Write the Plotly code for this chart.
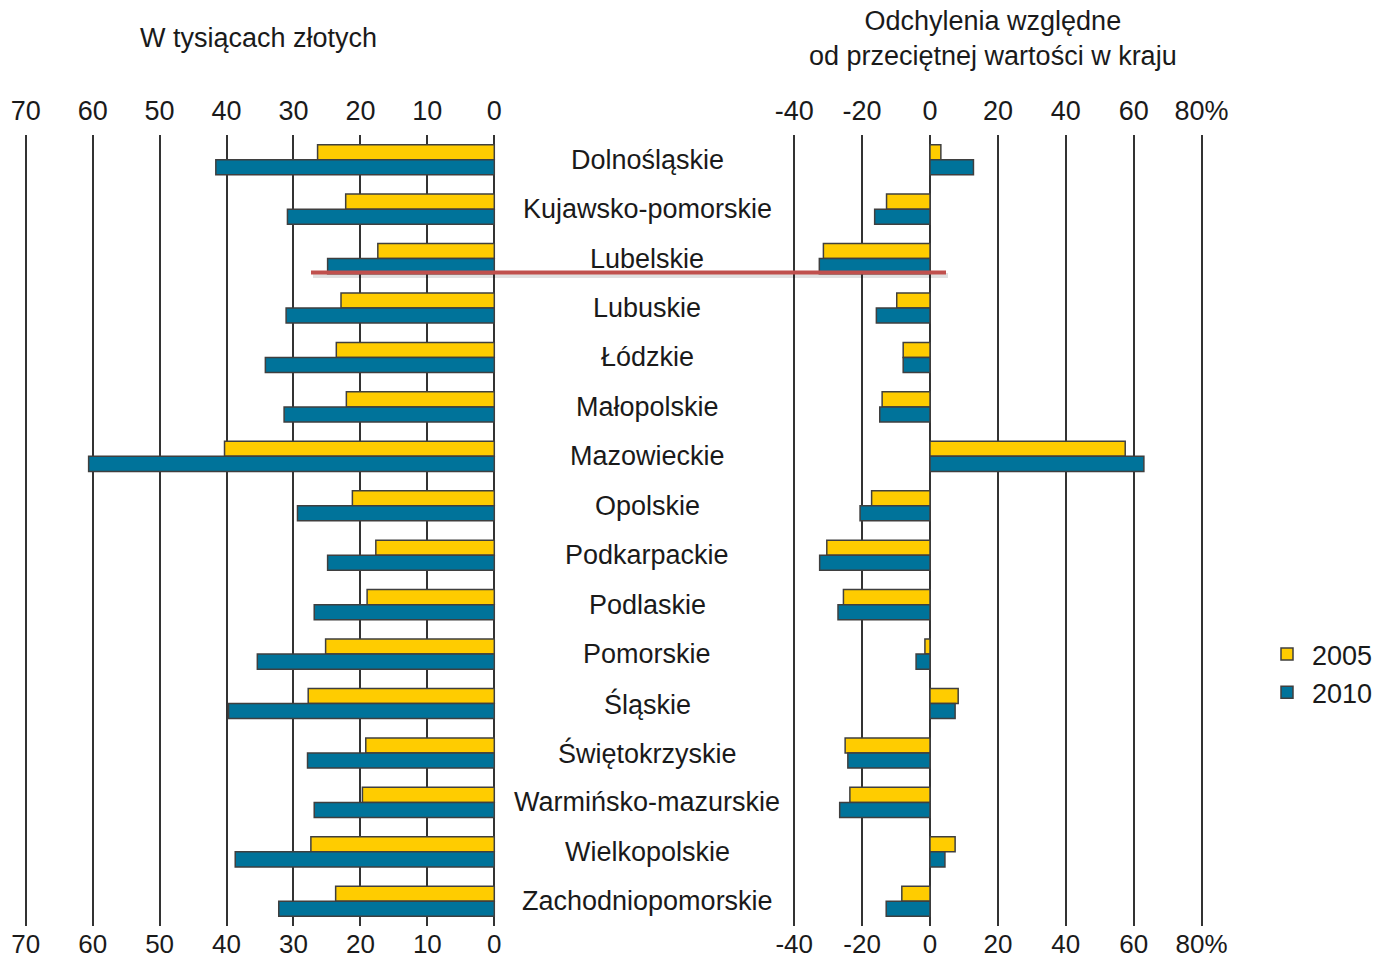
import plotly.graph_objects as go

categories = ["Dolnośląskie", "Kujawsko-pomorskie", "Lubelskie", "Lubuskie", "Łódzkie",
              "Małopolskie", "Mazowieckie", "Opolskie", "Podkarpackie", "Podlaskie",
              "Pomorskie", "Śląskie", "Świętokrzyskie", "Warmińsko-mazurskie",
              "Wielkopolskie", "Zachodniopomorskie"]

# W tysiącach złotych
value_2005 = [26.4, 22.2, 17.4, 22.9, 23.6, 22.1, 40.3, 21.2, 17.7, 19.0, 25.2, 27.8, 19.2, 19.7, 27.4, 23.7]
value_2010 = [41.6, 30.9, 24.9, 31.1, 34.2, 31.4, 60.6, 29.4, 24.9, 26.9, 35.4, 39.7, 27.9, 26.9, 38.7, 32.2]

# Odchylenia względne od przeciętnej wartości w kraju (%)
dev_2005 = [3.2, -12.8, -31.4, -9.8, -7.9, -14.1, 57.5, -17.2, -30.4, -25.5, -1.5, 8.3, -25.0, -23.6, 7.4, -8.3]
dev_2010 = [12.8, -16.3, -32.6, -15.8, -7.9, -14.8, 63.0, -20.6, -32.5, -27.1, -4.1, 7.4, -24.2, -26.6, 4.4, -12.9]

left_ticks = [0, 10, 20, 30, 40, 50, 60, 70]
left_ticktext = ["0", "10", "20", "30", "40", "50", "60", "70"]
right_ticks = [-40, -20, 0, 20, 40, 60, 80]
right_ticktext = ["-40", "-20", "0", "20", "40", "60", "80%"]

series_names = ["2005", "2010"]
YELLOW = "#FFCC00"
BLUE = "#00739A"
OUTLINE = "#3f3f3f"
GRID = "#333333"
TXT = "#1a1a1a"
FONT = "Liberation Sans, Arial, sans-serif"
FS = 27

W, H = 1378, 963

def px_x(p):
    return p / W

def px_y(p):
    return 1 - p / H

fig = go.Figure()

for name, vals, col in [(series_names[0], value_2005, YELLOW), (series_names[1], value_2010, BLUE)]:
    fig.add_trace(go.Bar(y=categories, x=vals, orientation="h", name=name,
                         marker=dict(color=col, line=dict(color=OUTLINE, width=1.5)),
                         xaxis="x", yaxis="y", legendgroup=name))
for name, vals, col in [(series_names[0], dev_2005, YELLOW), (series_names[1], dev_2010, BLUE)]:
    fig.add_trace(go.Bar(y=categories, x=vals, orientation="h", name=name,
                         marker=dict(color=col, line=dict(color=OUTLINE, width=1.5)),
                         xaxis="x2", yaxis="y2", legendgroup=name, showlegend=False))

# invisible helpers so the top tick axes are drawn
fig.add_trace(go.Scatter(x=[0], y=[categories[0]], xaxis="x3", yaxis="y", mode="markers",
                         marker=dict(opacity=0), showlegend=False, hoverinfo="skip"))
fig.add_trace(go.Scatter(x=[0], y=[categories[0]], xaxis="x4", yaxis="y2", mode="markers",
                         marker=dict(opacity=0), showlegend=False, hoverinfo="skip"))

# pixel geometry
left_px_per_unit = (494.3 - 25.7) / 70
left_range = [71, -1]
left_dom = [px_x(494.3 - 71 * left_px_per_unit), px_x(494.3 + 1 * left_px_per_unit)]
right_px_per_unit = (1201.7 - 794.3) / 120
right_range = [-42, 82]
right_dom = [px_x(930 - 42 * right_px_per_unit), px_x(930 + 82 * right_px_per_unit)]
y_dom = [px_y(926), px_y(135)]
y_range = [len(categories) - 0.5, -0.5]

tickfont = dict(family=FONT, size=FS, color=TXT)
bottom_tickfont = dict(family=FONT, size=26, color=TXT)
common_x = dict(showgrid=True, gridcolor=GRID, gridwidth=2, zeroline=True, zerolinecolor=GRID,
                zerolinewidth=2, showline=False, ticks="", tickfont=bottom_tickfont,
                fixedrange=True, automargin=False, ticklabelstandoff=0)
top_x = dict(showgrid=False, zeroline=False, ticks="", tickfont=tickfont, fixedrange=True,
             automargin=False, ticklabelstandoff=9)
common_y = dict(domain=y_dom, range=y_range, showticklabels=False, showgrid=False,
                zeroline=False, showline=False, ticks="", fixedrange=True, automargin=False)

fig.update_layout(
    width=W, height=H,
    margin=dict(l=0, r=0, t=0, b=0),
    paper_bgcolor="white", plot_bgcolor="white",
    barmode="group", bargap=0.39, bargroupgap=0,
    font=dict(family=FONT, color=TXT),
    xaxis=dict(domain=left_dom, range=left_range, anchor="y", side="bottom",
               tickvals=left_ticks, ticktext=left_ticktext, **common_x),
    xaxis3=dict(range=left_range, overlaying="x", anchor="y", side="top",
                tickvals=left_ticks, ticktext=left_ticktext, **top_x),
    xaxis2=dict(domain=right_dom, range=right_range, anchor="y2", side="bottom",
                tickvals=right_ticks, ticktext=right_ticktext, **common_x),
    xaxis4=dict(range=right_range, overlaying="x2", anchor="y2", side="top",
                tickvals=right_ticks, ticktext=right_ticktext, **top_x),
    yaxis=dict(anchor="x", **common_y),
    yaxis2=dict(anchor="x2", **common_y),
    legend=dict(x=px_x(1262), y=px_y(630), xanchor="left", yanchor="top",
                font=dict(family=FONT, size=FS, color=TXT), bgcolor="rgba(0,0,0,0)",
                traceorder="normal", itemwidth=40, tracegroupgap=8),
)

# category labels in the middle
for c in categories:
    fig.add_annotation(x=px_x(647), xref="paper", y=c, yref="y", text=c, showarrow=False,
                       xanchor="center", yanchor="middle",
                       font=dict(family=FONT, size=FS, color=TXT))

# panel titles
fig.add_annotation(x=px_x(258), y=px_y(38), xref="paper", yref="paper", showarrow=False,
                   text="W tysiącach złotych", xanchor="center", yanchor="middle",
                   font=dict(family=FONT, size=FS, color=TXT))
fig.add_annotation(x=px_x(993), y=px_y(38), xref="paper", yref="paper", showarrow=False,
                   text="Odchylenia względne<br>od przeciętnej wartości w kraju",
                   xanchor="center", yanchor="middle",
                   font=dict(family=FONT, size=FS, color=TXT))

# red highlight line below Lubelskie
hl_cat_index = categories.index("Lubelskie")
hl_offset = 0.28
fig.add_shape(type="line", xref="paper", yref="y", x0=px_x(313), x1=px_x(948),
              y0=hl_cat_index + hl_offset + 0.06, y1=hl_cat_index + hl_offset + 0.06,
              line=dict(color="rgba(0,0,0,0.12)", width=5), layer="above")
fig.add_shape(type="line", xref="paper", yref="y", x0=px_x(311), x1=px_x(946),
              y0=hl_cat_index + hl_offset, y1=hl_cat_index + hl_offset,
              line=dict(color="#C0504D", width=4), layer="above")

fig.write_html("out.html", config={"displayModeBar": False},
               post_script="document.body.style.margin='0';document.body.style.overflow='hidden';")
